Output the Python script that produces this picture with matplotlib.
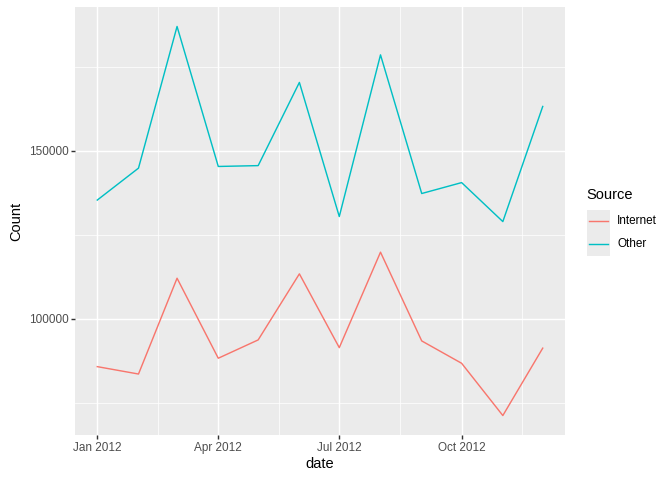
import numpy as np
import pandas as pd
import matplotlib
matplotlib.use("Agg")
import matplotlib.pyplot as plt
import matplotlib.dates as mdates
from matplotlib.lines import Line2D
from matplotlib.patches import Rectangle

plt.rcParams["font.family"] = ["Liberation Sans", "DejaVu Sans"]

# monthly counts
months = pd.date_range("2012-01-01", periods=12, freq="MS")
internet = [85800, 83600, 112100, 88300, 93750, 113400, 91450, 119850, 93450, 86800, 71250, 91300]
other = [135350, 144850, 187000, 145350, 145600, 170350, 130450, 178550, 137300, 140550, 128950, 163200]
sources = ["Internet", "Other"]
colors = ["#F8766D", "#00BFC4"]
x_breaks = pd.to_datetime(["2012-01-01", "2012-04-01", "2012-07-01", "2012-10-01"])
x_labels = ["Jan 2012", "Apr 2012", "Jul 2012", "Oct 2012"]
y_major = [100000, 150000]
y_minor = [75000, 125000, 175000]

fig = plt.figure(figsize=(7, 5), dpi=96)
ax = fig.add_axes([75 / 672, 45 / 480, 490 / 672, 428 / 480])
ax.set_facecolor("#EBEBEB")
for s in ax.spines.values():
    s.set_visible(False)

xnum = mdates.date2num(months)
lo, hi = xnum.min(), xnum.max()
ax.set_xlim(lo - 0.05 * (hi - lo), hi + 0.05 * (hi - lo))
allv = internet + other
ylo, yhi = min(allv), max(allv)
ax.set_ylim(ylo - 0.05 * (yhi - ylo), yhi + 0.05 * (yhi - ylo))

# grid
bnum = mdates.date2num(x_breaks)
x_minor = list((bnum[:-1] + bnum[1:]) / 2) + [bnum[-1] + (bnum[1] - bnum[0]) / 2]
for v in x_minor:
    ax.axvline(v, color="white", lw=0.53, zorder=0)
for v in y_minor:
    ax.axhline(v, color="white", lw=0.53, zorder=0)
for v in bnum:
    ax.axvline(v, color="white", lw=1.07, zorder=0)
for v in y_major:
    ax.axhline(v, color="white", lw=1.07, zorder=0)

ax.plot(xnum, internet, color=colors[0], lw=1.07, zorder=2)
ax.plot(xnum, other, color=colors[1], lw=1.07, zorder=2)

ax.set_xticks(bnum)
ax.set_xticklabels(x_labels)
ax.set_yticks(y_major)
ax.set_yticklabels([str(v) for v in y_major])
ax.tick_params(axis="both", length=2.75, width=1.07, color="#333333",
               labelcolor="#4D4D4D", labelsize=8.8, pad=2.2)
ax.set_xlabel("date", fontsize=11, color="black", labelpad=2.5)
ax.set_ylabel("Count", fontsize=11, color="black", labelpad=4)

# legend
fig.text(586 / 672, 1 - 195 / 480, "Source", fontsize=11, va="center", ha="left")
fig.patches.append(Rectangle((587 / 672, 1 - 256 / 480), 23 / 672, 46 / 480,
                             transform=fig.transFigure, facecolor="#EBEBEB",
                             edgecolor="none"))
for i, (name, c) in enumerate(zip(sources, colors)):
    yy = 1 - (221 + 23 * i) / 480
    fig.lines.append(Line2D([589 / 672, 608 / 672], [yy, yy], transform=fig.transFigure,
                            color=c, lw=1.07))
    fig.text(617 / 672, yy, name, fontsize=8.8, va="center", ha="left")

fig.savefig("out.png", dpi=96)
